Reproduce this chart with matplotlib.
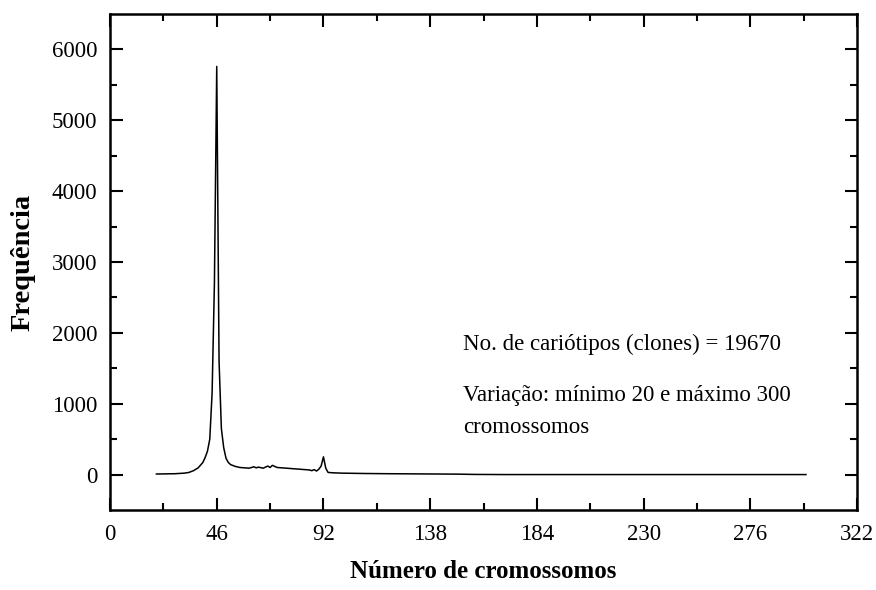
import matplotlib.pyplot as plt

plt.rcParams['font.family'] = ['Liberation Serif', 'DejaVu Serif']

# numero de cromossomos e frequencia
cromossomos = [20, 24, 28, 32, 34, 36, 38, 40, 41, 42, 43, 44, 45, 46,
               47, 48, 49, 50, 51, 52, 54, 56, 58, 60, 62, 63, 64, 66,
               68, 69, 70, 72, 74, 76, 78, 80, 82, 84, 86, 87, 88, 89,
               90, 91, 92, 93, 94, 96, 100, 104, 110, 120, 130, 140,
               150, 157, 170, 200, 250, 300]
frequencia = [8, 10, 12, 20, 30, 55, 95, 170, 240, 330, 500, 1150, 2700,
              5760, 1600, 650, 380, 230, 170, 140, 115, 100, 95, 90, 110,
              95, 105, 90, 120, 100, 130, 100, 95, 90, 85, 80, 75, 70, 65,
              55, 70, 50, 75, 120, 250, 90, 30, 25, 20, 18, 15, 12, 10, 8,
              6, 2, 0, 0, 0, 0]

xticks = [0, 46, 92, 138, 184, 230, 276, 322]
yticks = [0, 1000, 2000, 3000, 4000, 5000, 6000]

fig = plt.figure(figsize=(8.76, 5.90), dpi=100)
ax = fig.add_axes([0.1256, 0.1356, 0.8527, 0.8407])

ax.plot(cromossomos, frequencia, color='black', linewidth=1.1)

ax.set_xlim(0, 322)
ax.set_ylim(-500, 6500)
ax.set_xticks(xticks)
ax.set_xticks([x + 23 for x in xticks[:-1]], minor=True)
ax.set_yticks(yticks)
ax.set_yticks([y + 500 for y in yticks[:-1]], minor=True)

ax.tick_params(which='both', direction='in', top=True, right=True,
               labelsize=16.5, width=1.5)
ax.tick_params(which='major', length=9)
ax.tick_params(axis='y', which='major', pad=9)
ax.tick_params(axis='x', which='major', pad=10)
ax.tick_params(which='minor', length=5)
for s in ax.spines.values():
    s.set_linewidth(1.8)

ax.set_xlabel('Número de cromossomos', fontsize=18, fontweight='bold', labelpad=11)
ax.set_ylabel('Frequência', fontsize=20.5, fontweight='bold', labelpad=12)

ax.text(152, 1760, 'No. de cariótipos (clones) = 19670', fontsize=16.5)
ax.text(152, 1040, 'Variação: mínimo 20 e máximo 300', fontsize=16.5)
ax.text(152, 590, 'cromossomos', fontsize=16.5)

fig.savefig('out.png', dpi=100)
